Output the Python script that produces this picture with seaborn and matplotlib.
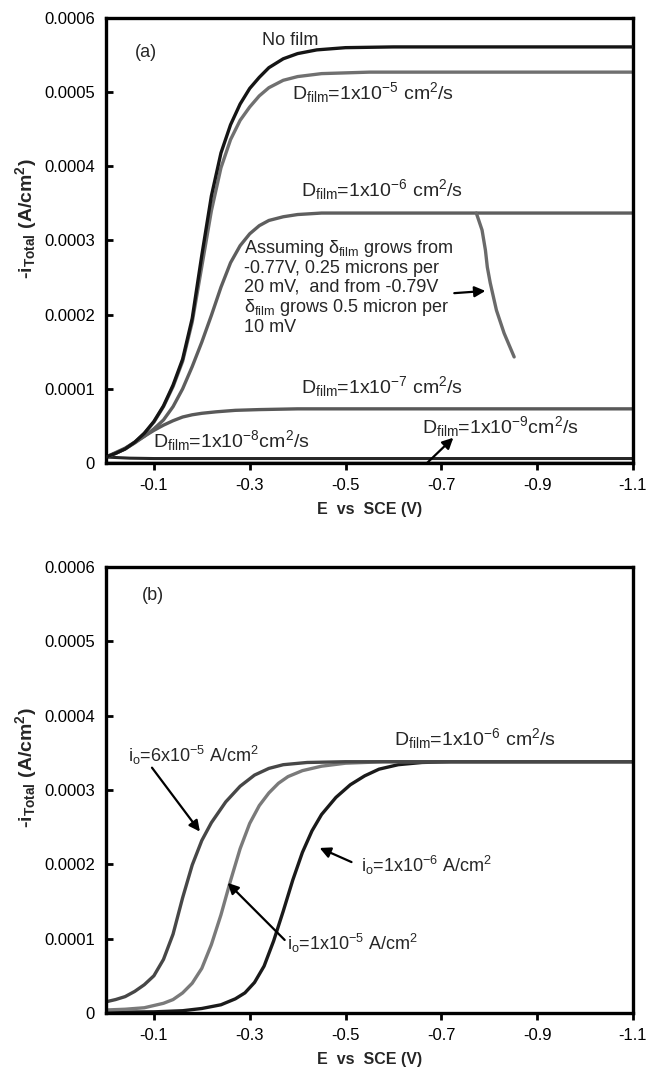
import matplotlib
matplotlib.use("Agg")
import matplotlib.pyplot as plt
import seaborn as sns
import pandas as pd

# ---------------- data: panel (a), effect of film diffusivity ----------------
e_nofilm = [0, -0.02, -0.04, -0.06, -0.08, -0.10, -0.12, -0.14, -0.16, -0.18, -0.20, -0.22, -0.24,
            -0.26, -0.28, -0.30, -0.32, -0.34, -0.37, -0.40, -0.44, -0.50, -0.60, -1.1]
i_nofilm = [0.000008, 0.000013, 0.000019, 0.000028, 0.00004, 0.000056, 0.000077, 0.000105, 0.00014,
            0.000195, 0.00028, 0.00036, 0.000418, 0.000456, 0.000484, 0.000505, 0.00052, 0.000533,
            0.000545, 0.000552, 0.000557, 0.00056, 0.000561, 0.000561]

e_d5 = [0, -0.02, -0.04, -0.06, -0.08, -0.10, -0.12, -0.14, -0.16, -0.18, -0.20, -0.22, -0.24,
        -0.26, -0.28, -0.30, -0.32, -0.34, -0.37, -0.40, -0.45, -0.55, -1.1]
i_d5 = [0.000008, 0.000013, 0.000019, 0.000028, 0.00004, 0.000055, 0.000076, 0.000103, 0.000137,
        0.00019, 0.000265, 0.00034, 0.000398, 0.000436, 0.000462, 0.00048, 0.000495, 0.000506,
        0.000516, 0.000521, 0.000525, 0.000527, 0.000527]

e_d6 = [0, -0.02, -0.04, -0.06, -0.08, -0.10, -0.12, -0.14, -0.16, -0.18, -0.20, -0.22, -0.24,
        -0.26, -0.28, -0.30, -0.32, -0.34, -0.37, -0.40, -0.45, -1.1]
i_d6 = [0.000008, 0.000013, 0.000019, 0.000027, 0.000036, 0.000046, 0.000058, 0.000076, 0.0001,
        0.00013, 0.000163, 0.000199, 0.000237, 0.00027, 0.000293, 0.000309, 0.00032, 0.000327,
        0.000332, 0.000335, 0.000337, 0.000337]

# D_film = 1e-6 with the film thickening beyond -0.77 V
e_d6_grow = [-0.773, -0.785, -0.792, -0.796, -0.802, -0.815, -0.831, -0.852]
i_d6_grow = [0.000337, 0.000314, 0.000287, 0.000264, 0.000243, 0.000206, 0.000175, 0.000143]

e_d7 = [0, -0.02, -0.04, -0.06, -0.08, -0.10, -0.12, -0.14, -0.16, -0.18, -0.20, -0.23, -0.27,
        -0.32, -0.40, -1.1]
i_d7 = [0.000008, 0.000014, 0.00002, 0.000028, 0.000036, 0.000044, 0.000051, 0.000057, 0.000062,
        0.000065, 0.000067, 0.000069, 0.000071, 0.000072, 0.000073, 0.000073]

e_d8 = [0, -0.05, -0.10, -1.1]
i_d8 = [0.000008, 0.0000065, 0.000006, 0.000006]

e_d9 = [0, -1.1]
i_d9 = [0.0000015, 0.0000015]

# ---------------- data: panel (b), effect of exchange current density ----------------
e_io6e5 = [0, -0.02, -0.04, -0.06, -0.08, -0.10, -0.12, -0.14, -0.16, -0.18, -0.20, -0.22, -0.25,
           -0.28, -0.31, -0.34, -0.37, -0.42, -0.50, -1.1]
i_io6e5 = [0.000015, 0.000018, 0.000022, 0.000029, 0.000038, 0.00005, 0.000072, 0.000106, 0.000155,
           0.000199, 0.000232, 0.000256, 0.000284, 0.000305, 0.00032, 0.000329, 0.000334, 0.000337,
           0.000338, 0.000338]

e_io1e5 = [0, -0.04, -0.08, -0.12, -0.14, -0.16, -0.18, -0.20, -0.22, -0.24, -0.26, -0.28, -0.30,
           -0.32, -0.34, -0.36, -0.38, -0.41, -0.45, -0.50, -0.58, -1.1]
i_io1e5 = [0.000004, 0.000005, 0.000007, 0.000013, 0.000018, 0.000027, 0.00004, 0.00006, 0.000092,
           0.000132, 0.000178, 0.000221, 0.000255, 0.000279, 0.000296, 0.000309, 0.000318, 0.000326,
           0.000332, 0.000336, 0.000338, 0.000338]

e_io1e6 = [0, -0.10, -0.16, -0.20, -0.24, -0.27, -0.29, -0.31, -0.33, -0.35, -0.37, -0.39, -0.41,
           -0.43, -0.45, -0.48, -0.51, -0.54, -0.57, -0.61, -0.66, -0.72, -1.1]
i_io1e6 = [0.000001, 0.0000015, 0.000003, 0.000006, 0.000011, 0.000019, 0.000027, 0.000041, 0.000063,
           0.000097, 0.000137, 0.000179, 0.000216, 0.000245, 0.000267, 0.00029, 0.000307, 0.000319,
           0.000328, 0.000334, 0.000337, 0.000338, 0.000338]

# ---------------- axes ticks ----------------
x_ticks = [-0.1, -0.3, -0.5, -0.7, -0.9, -1.1]
x_ticklabels = ["-0.1", "-0.3", "-0.5", "-0.7", "-0.9", "-1.1"]
y_ticks = [0, 0.0001, 0.0002, 0.0003, 0.0004, 0.0005, 0.0006]
y_ticklabels = ["0", "0.0001", "0.0002", "0.0003", "0.0004", "0.0005", "0.0006"]

# ---------------- arrows (tail -> head) ----------------
arrows_a = [((-0.727, 0.000229), (-0.792, 0.000232)),
            ((-0.671, 0.0000005), (-0.725, 0.000034))]
arrows_b = [((-0.096, 0.00033), (-0.196, 0.000244)),
            ((-0.373, 0.0000982), (-0.254, 0.000175)),
            ((-0.5125, 0.000203), (-0.446, 0.000222))]

sns.set_theme(style="white")
plt.rcParams["font.family"] = ["Liberation Sans", "DejaVu Sans"]
plt.rcParams["mathtext.fontset"] = "custom"
plt.rcParams["mathtext.rm"] = "Liberation Sans"
plt.rcParams["mathtext.it"] = "Liberation Sans:italic"
plt.rcParams["mathtext.bf"] = "Liberation Sans:bold"
plt.rcParams["mathtext.default"] = "regular"

fig = plt.figure(figsize=(6.49, 10.71), dpi=100)
ax_a = fig.add_axes([0.1633, 0.5677, 0.812, 0.4155])
ax_b = fig.add_axes([0.1633, 0.0542, 0.812, 0.4164])

LW = 2.4


def curve(ax, e, i, color, lw=LW, z=2):
    df = pd.DataFrame({"E": e, "I": i})
    sns.lineplot(data=df, x="E", y="I", ax=ax, color=color, linewidth=lw,
                 sort=False, estimator=None, zorder=z)


def style_axes(ax):
    ax.set_xlim(0, -1.1)
    ax.set_ylim(0, 0.0006)
    ax.set_xticks(x_ticks)
    ax.set_xticklabels(x_ticklabels)
    ax.set_yticks(y_ticks)
    ax.set_yticklabels(y_ticklabels)
    for sp in ax.spines.values():
        sp.set_linewidth(2.4)
        sp.set_color("black")
    ax.tick_params(axis="x", direction="out", length=5, width=2, pad=6,
                   labelsize=12, colors="black", bottom=True)
    ax.tick_params(axis="y", direction="in", length=5, width=2, pad=8,
                   labelsize=12, colors="black", left=True)
    ax.set_xlabel("E  vs  SCE (V)", fontsize=11.5, fontweight="bold", labelpad=6)
    ax.set_ylabel(r"-i$_{\mathbf{Total}}$ (A/cm$^{\mathbf{2}}$)", fontsize=14,
                  fontweight="bold")
    ax.yaxis.set_label_coords(-0.127, 0.55)


def arrow(ax, tail, head):
    ax.annotate("", xy=head, xytext=tail,
                arrowprops=dict(arrowstyle="-|>", color="black", lw=1.6,
                                mutation_scale=16, shrinkA=0, shrinkB=0))


FS = 13      # plain annotations
FSD = 14     # D_film labels


def dlabel(exp, gap=" "):
    return (r"D$_{\mathregular{film}}$=1x10$^{\mathregular{" + exp + r"}}$" + gap +
            r"cm$^{\mathregular{2}}$/s")


# ---------------- panel (a) ----------------
curve(ax_a, e_d9, i_d9, "#b0b0b0", lw=1.8)
curve(ax_a, e_d8, i_d8, "#262626", lw=2.2)
curve(ax_a, e_d7, i_d7, "#595959")
curve(ax_a, e_d6, i_d6, "#5e5e5e")
curve(ax_a, e_d6_grow, i_d6_grow, "#6a6a6a")
curve(ax_a, e_d5, i_d5, "#707070")
curve(ax_a, e_nofilm, i_nofilm, "#151515", z=3)
style_axes(ax_a)

ax_a.text(-0.06, 0.000547, "(a)", fontsize=FS)
ax_a.text(-0.325, 0.000563, "No film", fontsize=FS)
ax_a.text(-0.3875, 0.000491, dlabel("-5"), fontsize=FSD)
ax_a.text(-0.408, 0.00036, dlabel("-6"), fontsize=FSD)
ax_a.text(-0.2875, 0.000304,
          "Assuming δ$_{\\mathregular{film}}$ grows from\n"
          "-0.77V, 0.25 microns per\n"
          "20 mV,  and from -0.79V\n"
          "δ$_{\\mathregular{film}}$ grows 0.5 micron per\n"
          "10 mV", fontsize=FS, va="top", linespacing=1.1)
ax_a.text(-0.408, 0.0000943, dlabel("-7"), fontsize=FSD)
ax_a.text(-0.098, 0.0000216, dlabel("-8", ""), fontsize=FSD)
ax_a.text(-0.660, 0.0000404, dlabel("-9", ""), fontsize=FSD)
for t, h in arrows_a:
    arrow(ax_a, t, h)

# ---------------- panel (b) ----------------
curve(ax_b, e_io1e6, i_io1e6, "#1a1a1a")
curve(ax_b, e_io1e5, i_io1e5, "#7a7a7a")
curve(ax_b, e_io6e5, i_io6e5, "#474747")
style_axes(ax_b)

ax_b.text(-0.075, 0.000556, "(b)", fontsize=FS)
ax_b.text(-0.602, 0.00036, dlabel("-6"), fontsize=FSD)
ax_b.text(-0.046, 0.000338, r"i$_{\mathregular{o}}$=6x10$^{\mathregular{-5}}$ A/cm$^{\mathregular{2}}$", fontsize=FS)
ax_b.text(-0.377, 0.0000848, r"i$_{\mathregular{o}}$=1x10$^{\mathregular{-5}}$ A/cm$^{\mathregular{2}}$", fontsize=FS)
ax_b.text(-0.533, 0.00019, r"i$_{\mathregular{o}}$=1x10$^{\mathregular{-6}}$ A/cm$^{\mathregular{2}}$", fontsize=FS)
for t, h in arrows_b:
    arrow(ax_b, t, h)

fig.savefig("out.png", dpi=100)
